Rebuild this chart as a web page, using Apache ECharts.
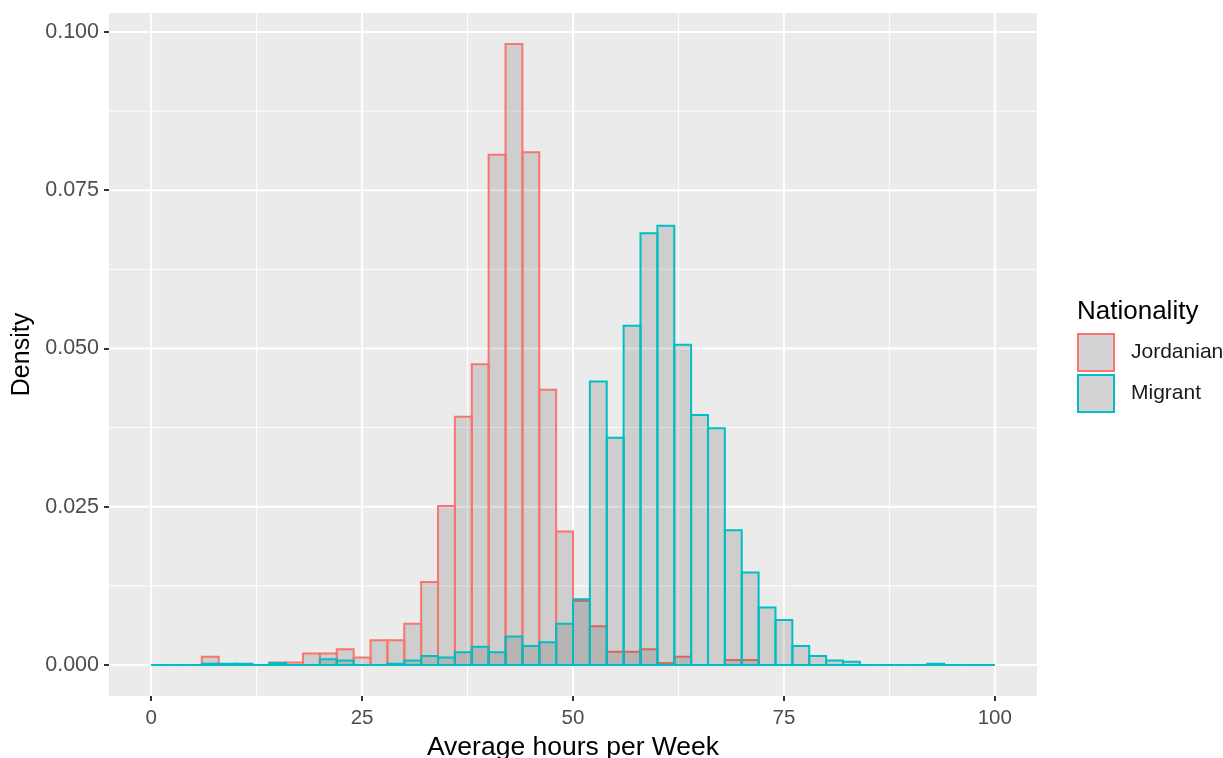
<!DOCTYPE html>
<html>
<head>
<meta charset="utf-8">
<script src="https://cdn.jsdelivr.net/npm/echarts@6/dist/echarts.min.js"></script>
<style>
html,body{margin:0;padding:0;background:#fff;}
#chart{width:1223px;height:758px;}
</style>
</head>
<body>
<div id="chart"></div>
<script>
// Histogram bins (width 2 hours), starting values of each bin
const binStarts = [0,2,4,6,8,10,12,14,16,18,20,22,24,26,28,30,32,34,36,38,40,42,44,46,48,50,52,54,56,58,60,62,64,66,68,70,72,74,76,78,80,82,84,86,88,90,92,94,96,98];
const binWidth = 2;
const jordanian = [0,0,0,0.0013,0,0,0,0.0004,0.0004,0.0018,0.0018,0.0025,0.0012,0.0039,0.0039,0.0065,0.0131,0.0251,0.0392,0.0475,0.0806,0.0981,0.0810,0.0435,0.0211,0.0101,0.0061,0.0021,0.0021,0.0025,0.0003,0.0013,0,0,0.0008,0.0008,0,0,0,0,0,0,0,0,0,0,0,0,0,0];
const migrant = [0,0,0,0.0002,0.0002,0.0002,0,0.0003,0,0,0.0009,0.0007,0,0,0.0002,0.0007,0.0014,0.0012,0.0020,0.0029,0.0020,0.0045,0.0030,0.0036,0.0065,0.0104,0.0448,0.0359,0.0536,0.0682,0.0694,0.0506,0.0395,0.0374,0.0213,0.0146,0.0091,0.0071,0.0030,0.0014,0.0007,0.0005,0,0,0,0,0.0002,0,0,0];
const seriesNames = ['Jordanian','Migrant'];
const xTicks = [0,25,50,75,100];
const xMinor = [12.5,37.5,62.5,87.5];
const yTicks = [0,0.025,0.05,0.075,0.1];
const yMinor = [0.0125,0.0375,0.0625,0.0875];

const FONT = "'Liberation Sans', Arial, sans-serif";
const colors = ['#F8766D','#00BFC4'];

function binData(vals){
  return binStarts.map((s,i)=>[s, s+binWidth, vals[i]]);
}
function histSeries(name, vals, color, z){
  return {
    type:'custom', name:name, z:z,
    coordinateSystem:'cartesian2d',
    encode:{x:[0,1], y:2},
    data: binData(vals),
    itemStyle:{color:'#d3d3d3', borderColor:color, borderWidth:2},
    renderItem:function(params, api){
      const p0 = api.coord([api.value(0), api.value(2)]);
      const p1 = api.coord([api.value(1), 0]);
      return {type:'rect',
        shape:{x:p0[0], y:p0[1], width:p1[0]-p0[0], height:p1[1]-p0[1]},
        style:{fill:'rgba(0,0,0,0.123)', stroke:color, lineWidth:2}};
    }
  };
}
function gridSeries(values, vertical, width){
  return {
    type:'custom', silent:true, z:1,
    coordinateSystem:'cartesian2d',
    data: values.map(v=>[v]),
    encode:{x:vertical?0:null, y:vertical?null:0},
    renderItem:function(params, api){
      const cs = params.coordSys;
      const v = api.value(0);
      if (vertical){
        const x = api.coord([v,0])[0];
        return {type:'line', shape:{x1:x,y1:cs.y,x2:x,y2:cs.y+cs.height}, style:{stroke:'#ffffff', lineWidth:width}};
      } else {
        const y = api.coord([0,v])[1];
        return {type:'line', shape:{x1:cs.x,y1:y,x2:cs.x+cs.width,y2:y}, style:{stroke:'#ffffff', lineWidth:width}};
      }
    }
  };
}

const chart = echarts.init(document.getElementById('chart'), null, {renderer:'canvas'});
chart.setOption({
  animation:false,
  backgroundColor:'#ffffff',
  textStyle:{fontFamily:FONT},
  title:{
    text:'Nationality', left:1072, top:294,
    textStyle:{fontFamily:FONT, fontSize:26, fontWeight:'normal', color:'#000'}
  },
  legend:{
    orient:'vertical', left:1072, top:328,
    icon:'rect', itemWidth:36, itemHeight:37, itemGap:2,
    textStyle:{fontFamily:FONT, fontSize:21, color:'#1a1a1a', padding:[2,0,0,12]},
    data:[
      {name:seriesNames[0], itemStyle:{color:'#d3d3d3', borderColor:colors[0], borderWidth:2}},
      {name:seriesNames[1], itemStyle:{color:'#d3d3d3', borderColor:colors[1], borderWidth:2}}
    ]
  },
  grid:{left:109, right:186, top:13, bottom:62, show:true, backgroundColor:'#EBEBEB', borderWidth:0,
        containLabel:false, outerBoundsMode:'none'},
  xAxis:{
    type:'value', min:-5, max:105,
    name:'Average hours per Week', nameLocation:'middle', nameGap:32,
    nameTextStyle:{fontFamily:FONT, fontSize:26.5, color:'#000'},
    axisLine:{show:false, onZero:false},
    axisTick:{show:true, length:5, lineStyle:{color:'#333333', width:2}, customValues:xTicks},
    axisLabel:{customValues:xTicks, margin:12, fontFamily:FONT, fontSize:20.5, color:'#4D4D4D'},
    splitLine:{show:false}
  },
  yAxis:{
    type:'value', min:-0.0049, max:0.1030,
    name:'Density', nameLocation:'middle', nameGap:72, nameRotate:90,
    nameTextStyle:{fontFamily:FONT, fontSize:25, color:'#000'},
    axisLine:{show:false, onZero:false},
    axisTick:{show:true, length:5, lineStyle:{color:'#333333', width:2}, customValues:yTicks},
    axisLabel:{customValues:yTicks, margin:10, fontFamily:FONT, fontSize:21.5, color:'#4D4D4D',
      formatter:function(v){return v.toFixed(3);}},
    splitLine:{show:false}
  },
  series:[
    gridSeries(xMinor, true, 1),
    gridSeries(yMinor, false, 1),
    gridSeries(xTicks, true, 2),
    gridSeries(yTicks, false, 2),
    histSeries(seriesNames[0], jordanian, colors[0], 2),
    histSeries(seriesNames[1], migrant, colors[1], 3)
  ]
});
</script>
</body>
</html>
